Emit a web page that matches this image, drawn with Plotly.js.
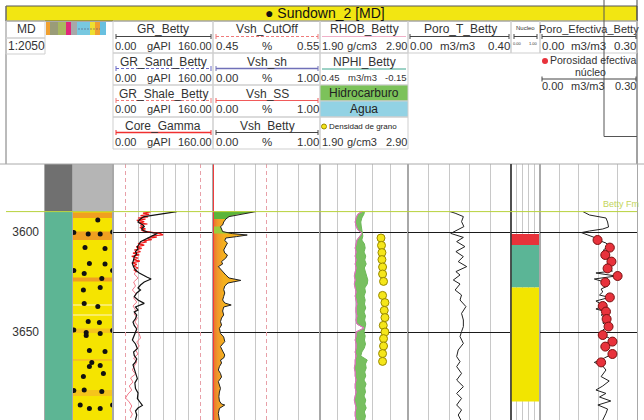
<!DOCTYPE html>
<html>
<head>
<meta charset="utf-8">
<script src="https://cdn.plot.ly/plotly-3.0.1.min.js"></script>
<style>html,body{margin:0;padding:0;background:#fff}#log{width:644px;height:420px}</style>
</head>
<body>
<div id="log"></div>
<script>
// ---- datos del pozo Sundown_2 ----
var wellName = "Sundown_2 [MD]";
var depthTicks = [3600, 3650];
var horizonName = ["Betty Fm"];
var horizonDepth = [3589.8];

// litologia (columna 1 y 2)
var lith1Top = [3566, 3589.8];
var lith1Base = [3589.8, 3694];
var lith1Code = ["sin", "agua"];
var lith2Top = [3566, 3589.8, 3590.3, 3599.8, 3622.8, 3636.3, 3641.3, 3648.3, 3663.5, 3679];
var lith2Base = [3589.8, 3694, 3593, 3604, 3624.8, 3636.8, 3641.8, 3650.5, 3664.5, 3682];
var lith2Code = ["sin", "arena", "oxid", "oxid", "oxid", "blanco", "blanco", "oxid2", "oxid2", "oxid2"];
var lithDotDepth = [3594, 3600.2, 3601, 3601, 3600, 3607.7, 3608.2, 3615.7, 3616, 3619.3, 3619.3, 3620.7, 3623.2, 3629, 3627.8, 3635.7, 3637.3, 3644.8, 3645.3, 3649, 3650.2, 3650.7, 3649.3, 3651.8, 3659.3, 3659.8, 3665.2, 3667.3, 3666.8, 3672.3, 3670.7, 3679, 3679.8, 3679.3, 3686.5, 3688.2, 3688.2, 3686.5];
var lithDotPos = [0.62, 0.02, 0.38, 0.68, 0.99, 0.30, 0.80, 0.41, 0.80, 0.02, 0.99, 0.28, 0.72, 0.26, 0.68, 0.28, 0.62, 0.38, 0.66, 0.02, 0.33, 0.68, 0.99, 0.33, 0.41, 0.80, 0.47, 0.41, 0.68, 0.26, 0.76, 0.28, 0.72, 0.02, 0.18, 0.41, 0.68, 0.99];

// GR (gAPI)
var grSandCut = 20;
var grShaleCut = 140;
var grDepth = [3589.8, 3590.5, 3591, 3591.8, 3592.3, 3593, 3594, 3595, 3595.7, 3596.5, 3597.3, 3598.2, 3599, 3600, 3600.7, 3601.5, 3602.3, 3603.5, 3604.8, 3606, 3607.3, 3608.5, 3609.8, 3611, 3612.3, 3614, 3615.7, 3617.5, 3619, 3620.5, 3621.5, 3622.5, 3623.5, 3625, 3626.5, 3628, 3629, 3630.5, 3632.3, 3634, 3635.7, 3637.5, 3639, 3640, 3641.5, 3643.3, 3645, 3646.7, 3648.5, 3650, 3652, 3654, 3656, 3658.3, 3660, 3661.7, 3663.5, 3665, 3666.5, 3668.3, 3670.5, 3673.3, 3675.5, 3678.3, 3680.5, 3683.3, 3685, 3686.7, 3688, 3689.5, 3691.5, 3694];
var grBetty = [102, 85, 74, 60, 50, 46, 42, 40, 44, 48, 50, 46, 47, 55, 71, 66, 60, 52, 44, 42, 39, 40, 36, 38, 34, 33, 31, 33, 36, 42, 47, 54, 61, 50, 44, 40, 44, 38, 34, 40, 50, 36, 40, 34, 38, 36, 32, 34, 38, 36, 34, 31, 36, 39, 33, 34, 38, 36, 32, 34, 37, 39, 35, 36, 40, 39, 43, 47, 40, 36, 38, 36];
var coreGammaDepth = [3590, 3590.6, 3591.2, 3591.8, 3592.4, 3593, 3593.6, 3594.2, 3594.8, 3595.4, 3596, 3596.6, 3597.2, 3597.8, 3598.4, 3599, 3599.6, 3600.2, 3600.8, 3601.4, 3602, 3602.6, 3603.2, 3603.8, 3604.4, 3605, 3605.8, 3606.6, 3607.4, 3608.2, 3609, 3609.8, 3610.6, 3611.4, 3612.2, 3613, 3613.8, 3614.6, 3615.4, 3616.2, 3617, 3618, 3619, 3620];
var coreGamma = [60, 48, 58, 44, 56, 40, 52, 38, 50, 42, 55, 44, 48, 43, 52, 45, 49, 60, 76, 80, 62, 70, 55, 62, 48, 54, 40, 50, 37, 46, 34, 44, 32, 42, 30, 40, 33, 43, 30, 38, 33, 40, 34, 38];
var grShaleDepth = [3619, 3621, 3623, 3625, 3627, 3629, 3631, 3633, 3635, 3637, 3639, 3641, 3643, 3645, 3647, 3649, 3651, 3653, 3655, 3657, 3659, 3661, 3663, 3665, 3667, 3669, 3671, 3673, 3675, 3677, 3679, 3681, 3683, 3685, 3687, 3689, 3691, 3693];
var grShale = [38, 34, 40, 33, 36, 31, 37, 33, 38, 32, 36, 34, 39, 35, 40, 37, 42, 44, 38, 42, 36, 40, 33, 38, 34, 31, 36, 28, 32, 26, 30, 24, 20, 26, 30, 27, 31, 28];

// Vsh (fraccion)
var vshCutoff = 0.5;
var vshSS = 0;
var vshDepth = [3589.8, 3590.5, 3591.3, 3592.3, 3593.5, 3595, 3596.5, 3597.3, 3598.5, 3599.8, 3600.8, 3601.5, 3602.3, 3603, 3604.3, 3605.5, 3607, 3609, 3610.5, 3611.5, 3613, 3614.8, 3616, 3617.3, 3618.5, 3619.8, 3621.5, 3623, 3624.2, 3625.5, 3627, 3628.8, 3630.5, 3632.2, 3634, 3635.5, 3636.5, 3637.5, 3639.5, 3641.5, 3643, 3644.8, 3646.5, 3648.2, 3650.7, 3652.5, 3654.8, 3656, 3657.3, 3659.5, 3661.5, 3663, 3664, 3665.5, 3667.3, 3669, 3670.7, 3672.5, 3674.8, 3676.5, 3678.2, 3680, 3682.3, 3684.5, 3686, 3686.5, 3687.5, 3688.2, 3690.7, 3694];
var vshBetty = [0.40, 0.33, 0.22, 0.15, 0.12, 0.10, 0.09, 0.07, 0.08, 0.09, 0.18, 0.32, 0.22, 0.12, 0.11, 0.135, 0.12, 0.10, 0.11, 0.135, 0.12, 0.08, 0.09, 0.05, 0.07, 0.09, 0.12, 0.15, 0.26, 0.14, 0.11, 0.10, 0.11, 0.10, 0.09, 0.11, 0.17, 0.10, 0.09, 0.10, 0.08, 0.07, 0.08, 0.06, 0.07, 0.10, 0.11, 0.09, 0.07, 0.09, 0.11, 0.10, 0.07, 0.08, 0.06, 0.05, 0.07, 0.08, 0.05, 0.06, 0.07, 0.06, 0.055, 0.06, 0.08, 0.11, 0.08, 0.06, 0.05, 0.06];
var hcTop = [3589.8, 3597.3];
var hcBase = [3593.5, 3600.8];

// RHOB (g/cm3) y NPHI (m3/m3)
var rnDepth = [3589.8, 3591, 3593, 3595, 3597, 3599, 3600.5, 3602, 3604, 3606, 3608, 3610, 3612, 3614, 3616, 3618, 3620, 3622, 3624, 3626, 3628, 3630, 3632, 3634, 3636, 3638, 3640, 3642, 3644, 3646, 3648, 3650, 3652, 3654, 3656, 3658, 3660, 3662, 3664, 3666, 3668, 3670, 3672, 3674, 3676, 3678, 3680, 3682, 3684, 3686, 3688, 3690, 3692, 3694];
var rhob = [2.38, 2.33, 2.31, 2.30, 2.31, 2.33, 2.38, 2.35, 2.32, 2.31, 2.30, 2.31, 2.30, 2.31, 2.30, 2.31, 2.30, 2.29, 2.30, 2.29, 2.30, 2.31, 2.30, 2.31, 2.32, 2.31, 2.31, 2.32, 2.31, 2.32, 2.40, 2.31, 2.31, 2.30, 2.31, 2.31, 2.30, 2.31, 2.30, 2.30, 2.29, 2.30, 2.30, 2.31, 2.30, 2.30, 2.31, 2.30, 2.29, 2.30, 2.31, 2.30, 2.30, 2.31];
var nphi = [0.147, 0.150, 0.165, 0.172, 0.169, 0.165, 0.160, 0.158, 0.165, 0.147, 0.142, 0.150, 0.138, 0.145, 0.135, 0.148, 0.140, 0.130, 0.124, 0.128, 0.145, 0.140, 0.150, 0.142, 0.147, 0.138, 0.150, 0.140, 0.146, 0.138, 0.142, 0.150, 0.142, 0.147, 0.140, 0.148, 0.165, 0.172, 0.128, 0.140, 0.135, 0.145, 0.138, 0.150, 0.136, 0.145, 0.140, 0.150, 0.138, 0.145, 0.135, 0.148, 0.140, 0.146];
var grainDepth = [3603, 3606.7, 3610.3, 3613.8, 3617.5, 3621, 3624.7, 3631.7, 3635.3, 3639.2, 3642.8, 3646.7, 3650, 3653.3, 3657, 3660.8, 3664.7];
var grainRho = [2.593, 2.599, 2.604, 2.604, 2.611, 2.611, 2.622, 2.611, 2.638, 2.630, 2.638, 2.619, 2.638, 2.622, 2.622, 2.611, 2.611];

// Poro_T (m3/m3)
var ptDepth = [3589.8, 3590.6, 3592.3, 3594.8, 3597.3, 3599, 3600.7, 3602.7, 3604.8, 3607.3, 3609.8, 3612.3, 3614.8, 3617.3, 3619.8, 3621.5, 3624, 3626, 3629, 3631.5, 3634, 3637.3, 3640.7, 3644, 3647.3, 3649.8, 3652.3, 3655.7, 3659, 3662.3, 3664.8, 3667.3, 3670.7, 3674, 3677.3, 3680.7, 3683.2, 3686.5, 3689, 3691.5, 3694];
var poroT = [0.163, 0.183, 0.215, 0.208, 0.217, 0.189, 0.166, 0.215, 0.189, 0.221, 0.186, 0.215, 0.195, 0.228, 0.186, 0.202, 0.176, 0.202, 0.183, 0.208, 0.202, 0.225, 0.208, 0.215, 0.215, 0.208, 0.202, 0.215, 0.195, 0.189, 0.202, 0.189, 0.208, 0.189, 0.215, 0.189, 0.208, 0.189, 0.208, 0.195, 0.205];

// Nucleo (intervalos)
var nucTop = [3601, 3606.5, 3627.8];
var nucBase = [3606.5, 3627.8, 3684.8];
var nucCode = ["sello", "agua", "arena"];

// Poro_Efectiva (m3/m3) y porosidad de nucleo
var peDepth = [3589.8, 3591.5, 3593, 3595, 3597.5, 3598.5, 3599.5, 3600.3, 3601.5, 3603, 3604, 3605.5, 3607, 3608.5, 3610, 3611.5, 3613, 3614.8, 3616.5, 3618, 3619.5, 3620.5, 3622, 3623.5, 3625, 3627, 3628.5, 3630, 3631.5, 3632.7, 3634.5, 3636, 3637, 3638.5, 3639.8, 3641.5, 3643.5, 3645.5, 3647.3, 3649, 3651.5, 3653, 3654.8, 3656, 3657.3, 3659, 3661, 3663, 3665.2, 3667, 3669, 3672.3, 3674.5, 3677, 3679, 3680.7, 3682.5, 3684.5, 3686.5, 3688.5, 3690.7, 3694];
var poroEf = [0.133, 0.153, 0.204, 0.209, 0.212, 0.194, 0.153, 0.128, 0.148, 0.173, 0.179, 0.204, 0.214, 0.199, 0.194, 0.204, 0.214, 0.219, 0.204, 0.209, 0.224, 0.173, 0.235, 0.168, 0.199, 0.209, 0.189, 0.194, 0.184, 0.214, 0.173, 0.189, 0.194, 0.173, 0.204, 0.189, 0.206, 0.194, 0.212, 0.194, 0.194, 0.214, 0.224, 0.199, 0.202, 0.214, 0.224, 0.199, 0.168, 0.194, 0.204, 0.189, 0.214, 0.194, 0.173, 0.204, 0.184, 0.219, 0.179, 0.209, 0.204, 0.194];
var coreDepth = [3604, 3607.8, 3611.5, 3614.8, 3618.2, 3622, 3625.2, 3632.7, 3637, 3639.8, 3643.5, 3647.3, 3651.5, 3654.8, 3657.3, 3661, 3665.2];
var corePhi = [0.178, 0.216, 0.202, 0.221, 0.209, 0.240, 0.202, 0.216, 0.194, 0.204, 0.206, 0.212, 0.194, 0.224, 0.202, 0.224, 0.189];

// ---- estilos ----
var lith1Colors = {sin: "#707070", agua: "#5db594"};
var lith2Colors = {sin: "#b5b5b5", arena: "#f5e400", oxid: "#f0a020", oxid2: "#f5c41c", blanco: "#fff6c8"};
var nucColors = {sello: "#e8323a", agua: "#5bb596", arena: "#f2e500"};

var W = 644, H = 420;
var FONT = "Liberation Sans, Arial, sans-serif";
var TOP = 3566, BOT = 3694;
function px(x) { return x / W; }
function py(y) { return 1 - y / H; }

var traces = [];
function block(axis, top, base, color, xmax) {
    traces.push({x: [xmax, xmax], y: [top, base], xaxis: axis, yaxis: "y", mode: "none",
        fill: "tozerox", fillcolor: color, hoverinfo: "skip"});
}
function vline(axis, val, color, dash, width) {
    traces.push({x: [val, val], y: [TOP, BOT], xaxis: axis, yaxis: "y", mode: "lines",
        line: {color: color, dash: dash, width: width}, hoverinfo: "skip"});
}
function subset(dep, val, top, base) {
    var o = {x: [], y: []};
    for (var i = 0; i < dep.length; i++) {
        if (dep[i] >= top && dep[i] <= base) { o.x.push(val[i]); o.y.push(dep[i]); }
    }
    return o;
}

// litologia
for (var i = 0; i < lith1Top.length; i++) block("x", lith1Top[i], lith1Base[i], lith1Colors[lith1Code[i]], 1);
for (var i = 0; i < lith2Top.length; i++) block("x2", lith2Top[i], lith2Base[i], lith2Colors[lith2Code[i]], 1);
traces.push({x: lithDotPos, y: lithDotDepth, xaxis: "x2", yaxis: "y", mode: "markers",
    marker: {color: "#111", size: 5}, hoverinfo: "skip"});

// GR
vline("x3", grSandCut, "#e8a0a8", "4px,3px", 1);
vline("x3", grShaleCut, "#e8a0a8", "4px,3px", 1);
traces.push({x: grShale, y: grShaleDepth, xaxis: "x3", yaxis: "y", mode: "lines", line: {color: "#f27a8a", width: 1}});
traces.push({x: coreGamma, y: coreGammaDepth, xaxis: "x3", yaxis: "y", mode: "lines", line: {color: "#f01818", width: 1.2}});
traces.push({x: grBetty, y: grDepth, xaxis: "x3", yaxis: "y", mode: "lines", line: {color: "#111", width: 1.2}});

// Vsh
vline("x4", vshCutoff, "#e8a0a8", "4px,3px", 1);
traces.push({x: vshBetty, y: vshDepth, xaxis: "x4", yaxis: "y", mode: "none", fill: "tozerox",
    fillcolor: "#f2a428",
    fillgradient: {type: "horizontal", start: 0, stop: 0.1,
        colorscale: [[0, "#e8702c"], [0.45, "#f09a2a"], [1, "#f4b01e"]]}});
for (var k = 0; k < hcTop.length; k++) {
    var s = subset(vshDepth, vshBetty, hcTop[k], hcBase[k]);
    traces.push({x: s.x, y: s.y, xaxis: "x4", yaxis: "y", mode: "none", fill: "tozerox",
        fillcolor: k === 0 ? "#5cb53a" : "#9ccd3c"});
}
traces.push({x: vshBetty, y: vshDepth, xaxis: "x4", yaxis: "y", mode: "lines", line: {color: "#222", width: 1}});
vline("x4", vshSS, "#f03c3c", "solid", 2);

// RHOB / NPHI
var nphiAsRhob = nphi.map(function (v) { return 1.9 + (0.45 - v) / 0.6; });
traces.push({x: rhob, y: rnDepth, xaxis: "x5", yaxis: "y", mode: "lines", line: {color: "#d070b0", width: 1}});
traces.push({x: nphiAsRhob, y: rnDepth, xaxis: "x5", yaxis: "y", mode: "lines", fill: "tonextx",
    fillcolor: "#78bf60", line: {width: 0}});
traces.push({x: nphi, y: rnDepth, xaxis: "x6", yaxis: "y", mode: "lines", line: {color: "#6cb858", width: 1}});
traces.push({x: rhob, y: rnDepth, xaxis: "x5", yaxis: "y", mode: "lines", line: {color: "#d878b8", width: 1}});
traces.push({x: grainRho, y: grainDepth, xaxis: "x5", yaxis: "y", mode: "markers",
    marker: {color: "#f5e61a", size: 8, line: {color: "#9a8a00", width: 1}}});

// Poro_T
traces.push({x: poroT, y: ptDepth, xaxis: "x7", yaxis: "y", mode: "lines", line: {color: "#222", width: 1}});

// Nucleo
for (var i = 0; i < nucTop.length; i++) block("x8", nucTop[i], nucBase[i], nucColors[nucCode[i]], 1);

// Poro efectiva
traces.push({x: poroEf, y: peDepth, xaxis: "x9", yaxis: "y", mode: "lines", line: {color: "#222", width: 1}});
traces.push({x: corePhi, y: coreDepth, xaxis: "x9", yaxis: "y", mode: "markers",
    marker: {color: "#e8323c", size: 9, line: {color: "#7a1010", width: 1}}});

// eje de etiquetas de profundidad
traces.push({x: [0.5], y: [depthTicks[0]], xaxis: "x", yaxis: "y2", mode: "markers",
    marker: {opacity: 0}, hoverinfo: "skip"});

function trackAxis(x0, x1, range, grid) {
    return {domain: [px(x0), px(x1)], range: range, anchor: "y", tickvals: grid,
        showticklabels: false, ticks: "", showgrid: true, gridcolor: "#c8c8c8", gridwidth: 1,
        zeroline: false, showline: false, fixedrange: true};
}

var layout = {
    width: W, height: H, margin: {l: 0, r: 0, t: 0, b: 0}, showlegend: false,
    paper_bgcolor: "#fff", plot_bgcolor: "#fff", font: {family: FONT, color: "#333"},
    xaxis: trackAxis(45, 73, [0, 1], []),
    xaxis2: trackAxis(73, 113, [0, 1], []),
    xaxis3: trackAxis(113, 213, [0, 160], [40, 60, 80, 100, 120]),
    xaxis4: trackAxis(213, 320, [0, 1], [0.2, 0.4, 0.6, 0.8]),
    xaxis5: trackAxis(320, 408, [1.9, 2.9], [2.1, 2.3, 2.5, 2.7]),
    xaxis6: {overlaying: "x5", anchor: "y", range: [0.45, -0.15], showgrid: false, showline: false,
        showticklabels: false, ticks: "", zeroline: false, fixedrange: true},
    xaxis7: trackAxis(408, 511, [0, 0.4], [0.08, 0.16, 0.24, 0.32]),
    xaxis8: trackAxis(511, 540, [0, 1], [0.2, 0.4, 0.6, 0.8]),
    xaxis9: trackAxis(540, 637, [0, 0.3], [0.06, 0.12, 0.18, 0.24]),
    yaxis: {domain: [0, py(164)], range: [BOT, TOP], anchor: "x", tickvals: depthTicks,
        showticklabels: false, ticks: "", showgrid: true, gridcolor: "#1a1a1a", gridwidth: 1,
        zeroline: false, showline: true, mirror: "all", linecolor: "#a8a8a8", linewidth: 1, fixedrange: true},
    yaxis2: {overlaying: "y", anchor: "free", position: px(39), side: "left", range: [BOT, TOP],
        tickvals: depthTicks, ticks: "", showgrid: false, zeroline: false, showline: false,
        tickfont: {size: 12, color: "#333", family: FONT}, fixedrange: true},
    shapes: [], annotations: []
};

var shapes = layout.shapes, ann = layout.annotations;
function R(x0, y0, x1, y1, lc, fc, lw) {
    shapes.push({type: "rect", xref: "paper", yref: "paper", x0: px(x0), x1: px(x1), y0: py(y0), y1: py(y1),
        line: {color: lc || "rgba(0,0,0,0)", width: lw === undefined ? 1 : lw}, fillcolor: fc || "rgba(0,0,0,0)", layer: "above"});
}
function L(x0, y0, x1, y1, c, w, dash) {
    shapes.push({type: "line", xref: "paper", yref: "paper", x0: px(x0), x1: px(x1), y0: py(y0), y1: py(y1),
        line: {color: c, width: w || 1, dash: dash || "solid"}, layer: "above"});
}
function LG(x0, x1, y, c, dash, w) {
    L(x0, y, x1, y, c, w || 1, dash);
    L(x0, y - 2.5, x0, y + 2.5, c, 1);
    L(x1, y - 2.5, x1, y + 2.5, c, 1);
}
function T(x, y, s, size, anchor, color) {
    ann.push({xref: "paper", yref: "paper", x: px(x), y: py(y), text: s, showarrow: false,
        xanchor: anchor || "center", yanchor: "middle", borderpad: 0,
        font: {size: size || 12, color: color || "#333", family: FONT}});
}
function SCALE(x0, xc, x1, y, a, u, b, size) {
    T(x0, y, a, size, "left"); T(xc, y, u, size, "center"); T(x1, y, b, size, "right");
}

// barra de titulo y marco
R(6, 6, 637, 21, "#555", "#f2e612");
T(325, 13.5, "\u25CF " + wellName, 14, "center", "#111");
L(6, 6, 6, 164, "#777", 1);
L(637, 0, 637, 164, "#444", 1);
L(0, 164, 644, 164, "#aaaaaa", 1);

// MD
var cell = "#cfcfcf";
R(6, 21, 45, 38, cell); R(6, 38, 45, 54, cell);
T(26, 29.5, "MD", 12); T(26, 46, "1:2050", 12);

// franja de colores
var strip = [[46, 50, "#f0a030"], [50, 58, "#9a9c78"], [58, 66, "#a8b860"], [66, 71, "#e0287a"], [71, 77, "#a8a8a8"],
    [77, 90, "#78c8e0"], [90, 95, "#eee030"], [95, 100, "#f0a030"], [100, 106, "#68c0e0"]];
strip.forEach(function (s) { R(s[0], 22, s[1], 35, null, s[2], 0); });
L(78, 29, 100, 29, "#557", 0.6, "2px,1px");

// GR
var grNames = ["GR_Betty", "GR_Sand_Betty", "GR_Shale_Betty", "Core_Gamma"];
var grLines = [["#444", "solid", 1], ["#6b6bc8", "3px,2px", 1.2], ["#f07a7a", "3px,2px", 1.2], ["#f03030", "solid", 1.6]];
for (var r = 0; r < 4; r++) {
    var y0 = 21 + r * 32;
    R(113, y0, 213, y0 + 32, cell);
    T(163, y0 + 8.5, grNames[r], 12);
    LG(116, 211, y0 + 15.5, grLines[r][0], grLines[r][1], grLines[r][2]);
    SCALE(114, 159, 213, y0 + 24.5, "0.00", "gAPI", "160.00", 11);
}
// Vsh
var vNames = ["Vsh_CutOff", "Vsh_sh", "Vsh_SS", "Vsh_Betty"];
var vLines = [["#f07a7a", "3px,2px", 1.2], ["#7070b8", "solid", 1.6], ["#f05a5a", "solid", 1.2], ["#444", "solid", 1]];
var vScales = [["0.45", "%", "0.55"], ["0.00", "%", "1.00"], ["0.00", "%", "1.00"], ["0.00", "%", "1.00"]];
for (var r = 0; r < 4; r++) {
    var y0 = 21 + r * 32;
    R(213, y0, 320, y0 + 32, cell);
    T(267, y0 + 8.5, vNames[r], 12);
    LG(216, 318, y0 + 15.5, vLines[r][0], vLines[r][1], vLines[r][2]);
    SCALE(215, 267, 320, y0 + 24.5, vScales[r][0], vScales[r][1], vScales[r][2], 11.5);
}
// RHOB / NPHI
R(320, 21, 408, 53, cell); R(320, 53, 408, 85, cell);
T(364, 29.5, "RHOB_Betty", 12);
L(322, 36.5, 406, 36.5, "#f0b0c8", 1);
SCALE(321, 362, 408, 45.5, "1.90", "g/cm3", "2.90", 11);
T(364, 61.5, "NPHI_Betty", 12);
L(322, 69, 406, 69, "#3aa58c", 1);
SCALE(320, 362, 408, 77.5, "0.45", "m3/m3", "-0.15", 9.5);
R(320, 85, 408, 101, cell, "#7cc25a");
T(364, 93, "Hidrocarburo", 12, "center", "#222");
R(320, 101, 408, 117, cell, "#92d2e4");
T(364, 109, "Agua", 12, "center", "#222");
R(320, 117, 408, 149, cell);
shapes.push({type: "circle", xref: "paper", yref: "paper", x0: px(321.5), x1: px(326.5), y0: py(124), y1: py(129),
    fillcolor: "#f5e61a", line: {color: "#9a8a00", width: 1}, layer: "above"});
T(328, 126.5, "Densidad de grano", 8, "left", "#222");
SCALE(321, 362, 408, 142, "1.90", "g/cm3", "2.90", 11);
// Poro_T
R(408, 21, 511, 53, cell);
T(460, 29.5, "Poro_T_Betty", 12);
LG(410, 509, 36.5, "#444", "solid", 1);
SCALE(409, 457, 511, 45.5, "0.00", "m3/m3", "0.40", 11.5);
// Nucleo
R(511, 21, 540, 53, cell);
T(525.5, 28, "Nucleo", 6);
LG(514, 537, 36.5, "#444", "solid", 1);
T(517, 44, "0.00", 4, "center"); T(533, 44, "1.00", 4, "center");
// Poro efectiva
R(540, 21, 637, 53, cell);
T(589, 29.5, "Poro_Efectiva_Betty", 11);
LG(542, 636, 36.5, "#444", "solid", 1);
SCALE(541, 588, 637, 45.5, "0.00", "m3/m3", "0.30", 11.5);
shapes.push({type: "circle", xref: "paper", yref: "paper", x0: px(542), x1: px(548), y0: py(58), y1: py(64),
    fillcolor: "#e8323c", line: {color: "#e8323c", width: 0}, layer: "above"});
T(549, 60.5, "Porosidad efectiva", 10.5, "left");
T(590, 72, "n\u00facleo", 10.5);
LG(542, 636, 79, "#444", "solid", 1);
SCALE(541, 588, 637, 86, "0.00", "m3/m3", "0.30", 11);

// ventana superpuesta
L(604, 0, 604, 136.5, "#555", 1);
L(604, 136.5, 637, 136.5, "#555", 1);

// borde izquierdo del nucleo
shapes.push({type: "line", xref: "paper", yref: "paper", x0: px(511), x1: px(511), y0: 0, y1: py(164),
    line: {color: "#333", width: 1.5}, layer: "above"});

// tope de formacion
for (var h = 0; h < horizonDepth.length; h++) {
    shapes.push({type: "line", xref: "paper", yref: "y", x0: px(6), x1: px(637), y0: horizonDepth[h], y1: horizonDepth[h],
        line: {color: "#b8d23c", width: 1}, layer: "above"});
    ann.push({xref: "paper", yref: "y", x: px(641), y: horizonDepth[h], text: horizonName[h], showarrow: false,
        xanchor: "right", yanchor: "bottom", yshift: 1, font: {size: 9, color: "#c3d45a", family: FONT}});
}

Plotly.newPlot("log", traces, layout, {staticPlot: true, displayModeBar: false});
</script>
</body>
</html>
